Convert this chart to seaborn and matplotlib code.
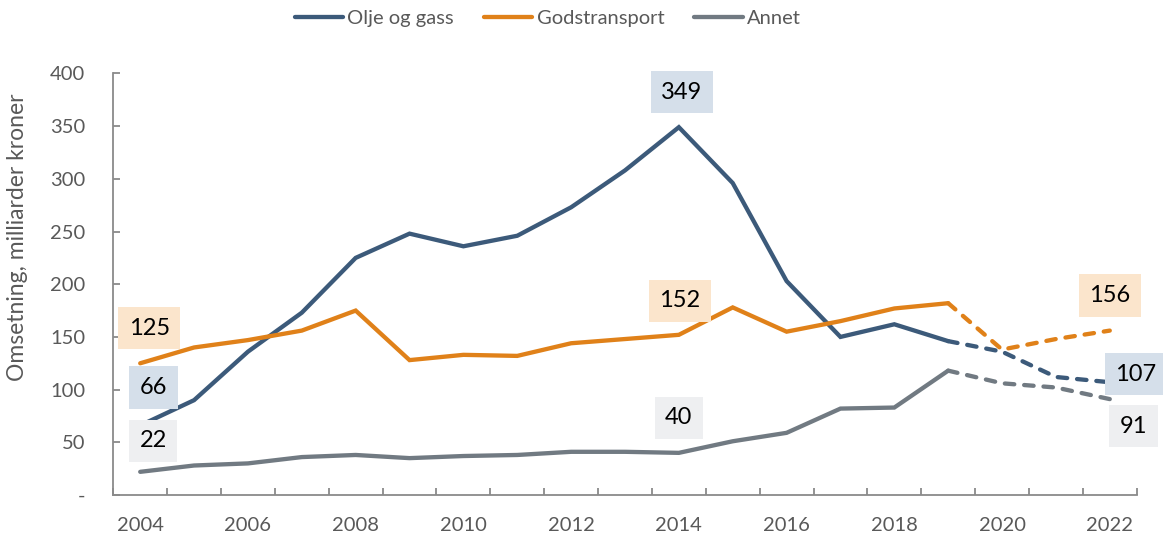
import matplotlib
matplotlib.use("Agg")
import matplotlib.pyplot as plt
import seaborn as sns
import pandas as pd
from matplotlib.ticker import FixedLocator, FixedFormatter

# ---- data ----
years = list(range(2004, 2023))
olje = [66, 90, 136, 173, 225, 248, 236, 246, 273, 308, 349, 296, 203, 150, 162, 146, 136, 112, 107]
gods = [125, 140, 147, 156, 175, 128, 133, 132, 144, 148, 152, 178, 155, 165, 177, 182, 138, 148, 156]
annet = [22, 28, 30, 36, 38, 35, 37, 38, 41, 41, 40, 51, 59, 82, 83, 118, 106, 102, 91]
series = ["Olje og gass", "Godstransport", "Annet"]
label_years = [2004, 2014, 2022]
projection_start = 2019
y_ticks = [0, 50, 100, 150, 200, 250, 300, 350, 400]
y_ticklabels = ["-", "50", "100", "150", "200", "250", "300", "350", "400"]
x_ticks = list(range(2004, 2023, 2))
y_title = "Omsetning, milliarder kroner"

# ---- style ----
sns.set_theme(style="white")
plt.rcParams["font.family"] = ["Lato", "DejaVu Sans"]

colors = {"Olje og gass": "#3c5a7a", "Godstransport": "#e08119", "Annet": "#717a82"}
box_colors = {"Olje og gass": "#d5dfea", "Godstransport": "#fbe5cc", "Annet": "#eeeff1"}
text_grey = "#595959"
axis_grey = "#8a8a8a"

values = {"Olje og gass": olje, "Godstransport": gods, "Annet": annet}
df = pd.DataFrame({
    "År": years * 3,
    "Verdi": olje + gods + annet,
    "Serie": [s for s in series for _ in years],
})
solid = df[df["År"] <= projection_start]
dashed = df[df["År"] >= projection_start]

fig = plt.figure(figsize=(11.63, 5.4), dpi=100)
ax = fig.add_axes([0.0974, 0.0833, 0.88, 0.7807])

sns.lineplot(data=solid, x="År", y="Verdi", hue="Serie", hue_order=series,
             palette=colors, linewidth=3.1, ax=ax, legend=True,
             solid_capstyle="round", solid_joinstyle="miter")
n_before = len(ax.lines)
sns.lineplot(data=dashed, x="År", y="Verdi", hue="Serie", hue_order=series,
             palette=colors, linewidth=3.1, ax=ax, legend=False)
for ln in ax.lines[n_before:]:
    ln.set_linestyle((0, (2.2, 2.3)))
    ln.set_dash_capstyle("round")

# data labels
offsets = {
    ("Godstransport", 2004): (9, 35),
    ("Olje og gass", 2004): (13, 38),
    ("Annet", 2004): (13, 31),
    ("Olje og gass", 2014): (3, 35),
    ("Godstransport", 2014): (1, 34),
    ("Annet", 2014): (0, 35),
    ("Godstransport", 2022): (0, 35),
    ("Olje og gass", 2022): (26, 8),
    ("Annet", 2022): (24, -27),
}
for s in series:
    for yr in label_years:
        v = values[s][years.index(yr)]
        ax.annotate(f"{v}", xy=(yr, v), xytext=offsets[(s, yr)],
                    textcoords="offset pixels", ha="center", va="center",
                    fontsize=17, color="black", annotation_clip=False,
                    bbox=dict(boxstyle="square,pad=0.45", fc=box_colors[s], ec="none"))

# axes
ax.set_xlim(years[0] - 0.5, years[-1] + 0.5)
ax.set_ylim(0, 400)
ax.yaxis.set_major_locator(FixedLocator(y_ticks))
ax.yaxis.set_major_formatter(FixedFormatter(y_ticklabels))
ax.xaxis.set_major_locator(FixedLocator(x_ticks))
ax.xaxis.set_major_formatter(FixedFormatter([str(y) for y in x_ticks]))
ax.xaxis.set_minor_locator(FixedLocator([y - 0.5 for y in years] + [years[-1] + 0.5]))

ax.tick_params(axis="x", which="major", length=0, pad=16, labelsize=14.5, labelcolor=text_grey)
ax.tick_params(axis="x", which="minor", direction="in", length=5, width=1.3, color=axis_grey, bottom=True)
ax.tick_params(axis="y", which="major", direction="in", length=5, width=1.3, color=axis_grey,
               pad=20, labelsize=14.5, labelcolor=text_grey, left=True)

for side in ["top", "right"]:
    ax.spines[side].set_visible(False)
for side in ["left", "bottom"]:
    ax.spines[side].set_color(axis_grey)
    ax.spines[side].set_linewidth(1.3)

ax.set_xlabel("")
ax.set_ylabel(y_title, fontsize=16.5, color=text_grey)
ax.yaxis.set_label_coords(-0.0834, 0.612)

handles, labels = ax.get_legend_handles_labels()
ax.get_legend().remove()
leg = fig.legend(handles, labels, loc="center", bbox_to_anchor=(0.471, 0.965), ncol=3,
                 frameon=False, handlelength=2.4, handletextpad=0.2, columnspacing=1.5,
                 fontsize=14.5)
for t in leg.get_texts():
    t.set_color(text_grey)
for h in leg.get_lines():
    h.set_linewidth(3.1)
    h.set_solid_capstyle("round")

fig.savefig("out.png", dpi=100)
